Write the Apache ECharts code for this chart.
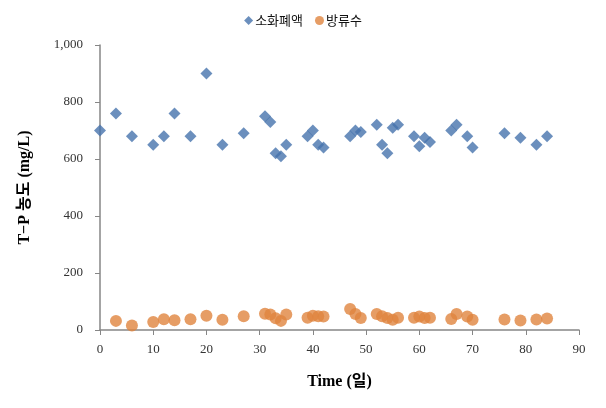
<!DOCTYPE html>
<html><head><meta charset="utf-8">
<script src="https://cdn.jsdelivr.net/npm/echarts@6/dist/echarts.min.js"></script>
<style>html,body{margin:0;padding:0;background:#fff}#c{width:606px;height:408px}</style>
</head><body><div id="c"></div>
<script>
const seriesNames = ['소화폐액', '방류수'];
const digestDays = [0,3,6,10,12,14,17,20,23,27,31,32,33,34,35,39,40,41,42,47,48,49,52,53,54,55,56,59,60,61,62,66,67,69,70,76,79,82,84];
const digestTP   = [700,760,680,650,680,760,680,900,650,690,750,730,620,610,650,680,700,650,640,680,700,695,720,650,620,710,720,680,645,675,660,700,720,680,640,690,675,650,680];
const effluentDays = [3,6,10,12,14,17,20,23,27,31,32,33,34,35,39,40,41,42,47,48,49,52,53,54,55,56,59,60,61,62,66,67,69,70,76,79,82,84];
const effluentTP   = [32,16,28,38,34,38,50,36,48,57,54,41,32,54,43,50,48,47,74,56,42,56,48,42,36,43,43,47,42,43,39,56,47,36,37,33,37,40];
const xTicks = [0,10,20,30,40,50,60,70,80,90];
const yTicks = [0,200,400,600,800,1000];

const zip = (a,b) => a.map((v,i)=>[v,b[i]]);
const chart = echarts.init(document.getElementById('c'), null, {renderer:'canvas'});
const axisColor = '#868686';
const labelFont = {color:'#333', fontSize:13, fontFamily:'"Liberation Serif", "DejaVu Serif", serif'};
chart.setOption({
  animation:false,
  legend:{
    top:9, left:'center', itemWidth:9, itemHeight:9, itemGap:12,
    textStyle:{fontSize:13, color:'#111', fontFamily:'"Noto Sans CJK KR", sans-serif', padding:[0,0,0,-3]},
    data:[{name:seriesNames[0], icon:'diamond'},{name:seriesNames[1], icon:'circle'}]
  },
  grid:{left:100, right:27, top:45, bottom:78, containLabel:false},
  xAxis:{
    type:'value', min:0, max:90, interval:10,
    name:'Time (일)', nameLocation:'middle', nameGap:44,
    nameTextStyle:{fontSize:16, fontWeight:'bold', color:'#000', fontFamily:'"Liberation Serif", "Noto Sans CJK KR", serif'},
    axisLine:{show:true, lineStyle:{color:axisColor, width:1.5}},
    axisTick:{show:true, inside:false, length:5, lineStyle:{color:axisColor}},
    axisLabel:Object.assign({margin:13, formatter:v=>xTicks.includes(v)?String(v):''}, labelFont),
    splitLine:{show:false}
  },
  yAxis:{
    type:'value', min:0, max:1000, interval:200,
    name:'T−P 농도 (mg/L)', nameLocation:'middle', nameGap:67, nameRotate:90,
    nameTextStyle:{fontSize:16, fontWeight:'bold', color:'#000', fontFamily:'"Liberation Serif", "Noto Sans CJK KR", serif'},
    axisLine:{show:true, lineStyle:{color:axisColor, width:1.5}},
    axisTick:{show:true, inside:false, length:5, lineStyle:{color:axisColor}},
    axisLabel:Object.assign({margin:17, formatter:v=>yTicks.includes(v)?v.toLocaleString('en-US'):''}, labelFont),
    splitLine:{show:false}
  },
  series:[
    {name:seriesNames[0], type:'scatter', symbol:'diamond', symbolSize:12,
     itemStyle:{color:'#4673AC'}, data:zip(digestDays,digestTP)},
    {name:seriesNames[1], type:'scatter', symbol:'circle', symbolSize:12,
     itemStyle:{color:'#E0843F'}, data:zip(effluentDays,effluentTP)}
  ]
});
</script>
</body></html>
